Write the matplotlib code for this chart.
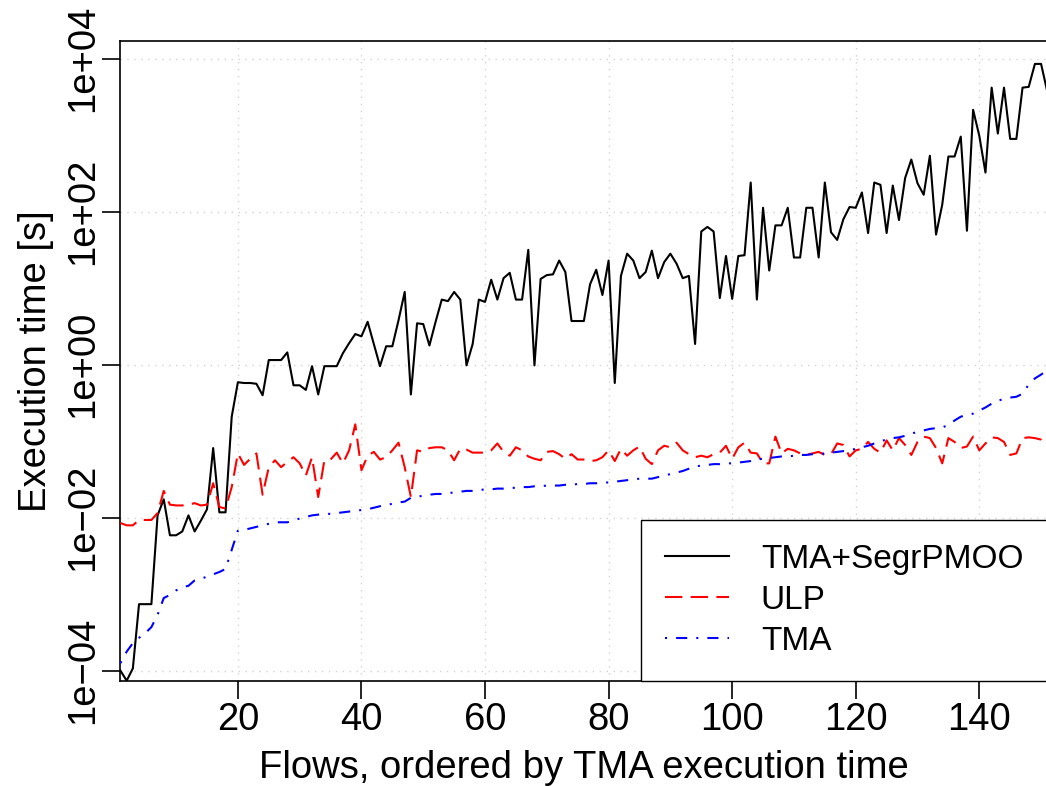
import numpy as np
import matplotlib
matplotlib.use("Agg")
import matplotlib.pyplot as plt
from matplotlib.ticker import NullLocator

plt.rcParams['font.family'] = ['Liberation Sans', 'DejaVu Sans']
plt.rcParams['lines.scale_dashes'] = False

# flow index (flows sorted by TMA execution time)
flows = np.arange(1, 152)

# execution times, stored as log10(seconds)
segr_log10 = [
    -4.00, -4.13, -3.97, -3.13, -3.13, -3.13, -1.97, -1.76, -2.23, -2.23,
    -2.18, -1.97, -2.18, -2.04, -1.89, -1.09, -1.93, -1.93, -0.68, -0.23,
    -0.24, -0.24, -0.25, -0.40, 0.06, 0.06, 0.06, 0.16, -0.27, -0.27,
    -0.33, -0.02, -0.39, -0.02, -0.02, -0.02, 0.15, 0.28, 0.40, 0.37,
    0.56, 0.27, -0.02, 0.24, 0.24, 0.58, 0.95, -0.39, 0.54, 0.53,
    0.25, 0.56, 0.85, 0.83, 0.95, 0.85, -0.01, 0.27, 0.85, 0.82,
    1.11, 0.85, 1.13, 1.20, 0.85, 0.85, 1.50, -0.01, 1.12, 1.17,
    1.18, 1.36, 1.21, 0.57, 0.57, 0.57, 1.05, 1.24, 0.91, 1.36,
    -0.24, 1.16, 1.45, 1.36, 1.13, 1.21, 1.49, 1.13, 1.34, 1.45,
    1.32, 1.13, 1.16, 0.27, 1.74, 1.80, 1.74, 0.87, 1.42, 0.86,
    1.42, 1.43, 2.38, 0.85, 2.05, 1.23, 1.82, 1.82, 2.05, 1.40,
    1.40, 2.05, 2.05, 1.40, 2.38, 1.73, 1.63, 1.90, 2.06, 2.05,
    2.25, 1.72, 2.38, 2.35, 1.72, 2.34, 1.89, 2.44, 2.68, 2.37,
    2.22, 2.73, 1.70, 2.09, 2.72, 2.72, 2.98, 1.75, 3.33, 2.99,
    2.51, 3.62, 3.02, 3.62, 2.95, 2.95, 3.62, 3.63, 3.93, 3.93,
    3.57,
]
ulp_log10 = [
    -2.07, -2.10, -2.10, -2.03, -2.03, -2.03, -1.94, -1.65, -1.83, -1.84,
    -1.84, -1.83, -1.81, -1.84, -1.83, -1.55, -1.86, -1.88, -1.60, -1.16,
    -1.31, -1.23, -1.16, -1.70, -1.34, -1.25, -1.34, -1.27, -1.21, -1.29,
    -1.45, -1.21, -1.73, -1.25, -1.24, -1.15, -1.29, -1.12, -0.78, -1.38,
    -1.19, -1.14, -1.24, -1.21, -1.12, -1.02, -1.34, -1.73, -1.12, -1.14,
    -1.09, -1.08, -1.08, -1.12, -1.25, -1.10, -1.11, -1.15, -1.15, -1.15,
    -1.12, -1.03, -1.14, -1.19, -1.08, -1.12, -1.20, -1.23, -1.25, -1.14,
    -1.13, -1.17, -1.23, -1.17, -1.24, -1.24, -1.26, -1.25, -1.21, -1.12,
    -1.26, -1.10, -1.19, -1.12, -1.07, -1.23, -1.30, -1.12, -1.06, -1.08,
    -1.02, -1.12, -1.17, -1.21, -1.19, -1.21, -1.17, -1.15, -1.06, -1.23,
    -1.08, -1.02, -1.15, -1.16, -1.29, -1.29, -0.94, -1.16, -1.10, -1.12,
    -1.16, -1.18, -1.16, -1.14, -1.18, -1.17, -1.03, -1.05, -1.20, -1.12,
    -1.10, -1.01, -1.10, -1.15, -0.99, -1.12, -0.96, -1.05, -1.18, -1.01,
    -0.94, -0.96, -1.09, -1.29, -0.96, -1.01, -1.09, -1.07, -0.94, -1.12,
    -1.03, -0.95, -0.96, -1.01, -1.18, -1.16, -0.96, -0.95, -0.96, -0.98,
    -1.07,
]
tma_log10 = [
    -3.90, -3.75, -3.64, -3.57, -3.51, -3.43, -3.27, -3.05, -3.01, -2.95,
    -2.91, -2.89, -2.82, -2.80, -2.77, -2.74, -2.71, -2.67, -2.42, -2.17,
    -2.16, -2.14, -2.12, -2.10, -2.08, -2.06, -2.06, -2.06, -2.04, -2.01,
    -1.99, -1.97, -1.96, -1.95, -1.95, -1.94, -1.93, -1.92, -1.91, -1.90,
    -1.89, -1.87, -1.85, -1.83, -1.82, -1.80, -1.79, -1.74, -1.73, -1.71,
    -1.70, -1.69, -1.69, -1.68, -1.67, -1.66, -1.65, -1.65, -1.64, -1.63,
    -1.63, -1.62, -1.62, -1.61, -1.61, -1.60, -1.60, -1.59, -1.59, -1.58,
    -1.58, -1.58, -1.57, -1.57, -1.56, -1.56, -1.55, -1.55, -1.54, -1.54,
    -1.53, -1.52, -1.51, -1.50, -1.49, -1.49, -1.49, -1.47, -1.45, -1.43,
    -1.41, -1.39, -1.36, -1.33, -1.32, -1.31, -1.30, -1.30, -1.29, -1.29,
    -1.28, -1.27, -1.26, -1.24, -1.23, -1.22, -1.21, -1.20, -1.20, -1.19,
    -1.18, -1.18, -1.17, -1.17, -1.16, -1.15, -1.14, -1.13, -1.12, -1.10,
    -1.08, -1.06, -1.03, -1.00, -0.98, -0.96, -0.95, -0.93, -0.90, -0.88,
    -0.86, -0.84, -0.83, -0.82, -0.79, -0.73, -0.68, -0.66, -0.64, -0.60,
    -0.56, -0.51, -0.47, -0.45, -0.43, -0.42, -0.38, -0.26, -0.18, -0.13,
    -0.07,
]

series_labels = ['TMA+SegrPMOO', 'ULP', 'TMA']
x_ticks = [20, 40, 60, 80, 100, 120, 140]
y_ticks = [1e-4, 1e-2, 1e0, 1e2, 1e4]
y_tick_labels = ['1e\u221204', '1e\u221202', '1e+00', '1e+02', '1e+04']

fig = plt.figure(figsize=(10.46, 7.86), dpi=100)
ax = fig.add_axes([0.1152, 0.134, 0.886, 0.8139])

ax.plot(flows, np.power(10.0, segr_log10), color='black', lw=1.5,
        label=series_labels[0], zorder=3)
ax.plot(flows, np.power(10.0, ulp_log10), color='#FF0000', lw=1.5,
        linestyle=(0, (12.5, 6)), label=series_labels[1], zorder=3)
ax.plot(flows, np.power(10.0, tma_log10), color='#0000FF', lw=1.5,
        linestyle=(0, (1.5, 6.5, 8, 6.5)), label=series_labels[2], zorder=3)

ax.set_yscale('log')
ax.set_xlim(1, 151)
ax.set_ylim(10 ** -4.13, 10 ** 4.23)

ax.set_xticks(x_ticks)
ax.set_yticks(y_ticks)
ax.set_yticklabels(y_tick_labels)
ax.yaxis.set_minor_locator(NullLocator())
ax.xaxis.set_minor_locator(NullLocator())

ax.grid(True, color='#D3D3D3', linestyle=(0, (1, 4)), linewidth=1.0, zorder=0)
ax.set_axisbelow(True)

for side in ax.spines.values():
    side.set_linewidth(1.2)
ax.tick_params(axis='both', direction='out', length=13, width=1.2,
               labelsize=27.5, colors='black')
ax.tick_params(axis='x', pad=2)
ax.tick_params(axis='y', pad=1)
for lab in ax.get_yticklabels():
    lab.set_rotation(90)
    lab.set_va('center')

ax.set_xlabel('Flows, ordered by TMA execution time', fontsize=27.5, labelpad=9)
ax.set_ylabel('Execution time [s]', fontsize=27.5, labelpad=8)

leg = ax.legend(loc='lower right', bbox_to_anchor=(1, 0), borderaxespad=0,
                fontsize=24, handlelength=1.92, handletextpad=0.95,
                borderpad=0.72, labelspacing=0.30, fancybox=False,
                framealpha=1, edgecolor='black')
leg.get_frame().set_linewidth(1.0)

fig.savefig('out.png', dpi=100)
